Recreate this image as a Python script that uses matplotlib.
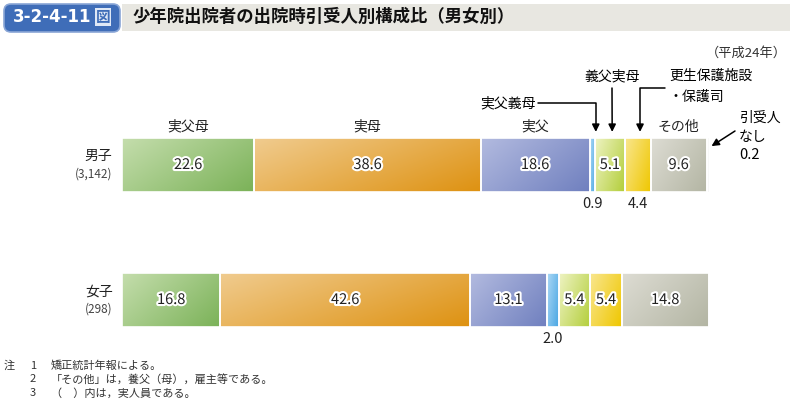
import numpy as np
import matplotlib
matplotlib.use('Agg')
import matplotlib.pyplot as plt
import matplotlib.patheffects as pe
from matplotlib.patches import FancyBboxPatch, Rectangle
from matplotlib.colors import to_rgb

plt.rcParams['font.family'] = ['Noto Sans CJK JP', 'DejaVu Sans']

# data
groups = ['男子', '女子']
group_counts = ['(3,142)', '(298)']
categories = ['実父母', '実母', '実父', '実父義母', '義父実母', '更生保護施設・保護司', 'その他', '引受人なし']
male = [22.6, 38.6, 18.6, 0.9, 5.1, 4.4, 9.6, 0.2]
female = [16.8, 42.6, 13.1, 2.0, 5.4, 5.4, 14.8, 0.0]
light = ['#c4ddac', '#f0cb8e', '#b2badf', '#acd8f5', '#eef3c2', '#f9e68e', '#dddcd3', '#eeeeee']
dark = ['#7bb258', '#de9212', '#7080bf', '#48a6e3', '#b3ce3a', '#efc700', '#b3b5a3', '#cccccc']

W, H = 792, 407
fig = plt.figure(figsize=(W / 100, H / 100), dpi=100)
ax = fig.add_axes([0, 0, 1, 1])
ax.axis('off')

# pixel mapping: bar from 122 to 708 px, rows centred at 165 / 300 px
ppx = 5.86
ypx = 135.0
xlim = (-122 / ppx, (W - 122) / ppx)
ylim = ((H - 165) / ypx, -165 / ypx)
height = 54 / ypx


def fpx(x, y):
    # figure pixels, origin top-left
    return (x, H - y)


def ffr(x, y):
    # figure fraction from top-left pixels
    return (x / W, 1 - y / H)


def gradient(c0, c1, n=40):
    a, b = np.array(to_rgb(c0)), np.array(to_rgb(c1))
    i, j = np.mgrid[0:n, 0:n]
    t = (i / (n - 1) * 0.6 + j / (n - 1)) / 1.6
    return a + (b - a) * t[..., None]


for row, vals in enumerate([male, female]):
    lefts = np.concatenate([[0], np.cumsum(vals)[:-1]])
    bars = ax.barh(row, vals, left=lefts, height=height, facecolor='none',
                   edgecolor='white', linewidth=1.2, zorder=3)
    for k, (b, v, l) in enumerate(zip(bars, vals, lefts)):
        if v <= 0:
            continue
        im = ax.imshow(gradient(light[k], dark[k]), extent=(l, l + v, row + height / 2, row - height / 2),
                       origin='upper', aspect='auto', interpolation='bilinear', zorder=2)
        im.set_clip_path(b)

ax.set_xlim(*xlim)
ax.set_ylim(*ylim)

stroke = [pe.withStroke(linewidth=3, foreground='white')]


def centers(vals):
    c = np.cumsum(vals)
    return c - np.array(vals) / 2


# values inside / below bars
for row, vals in enumerate([male, female]):
    cs = centers(vals)
    for k, (v, cx) in enumerate(zip(vals, cs)):
        if v <= 0 or k == 7:
            continue
        if v < 2.5 or (row == 0 and k == 5):
            ax.text(cx, row + height / 2 + 0.09, f'{v:.1f}', ha='center', va='center',
                    fontsize=10.5, color='#222222')
        else:
            ax.text(cx, row, f'{v:.1f}', ha='center', va='center', fontsize=10.5,
                    color='#222222', path_effects=stroke, zorder=5)

# segment names above the male bar
cm = centers(male)
for k in [0, 1, 2, 6]:
    ax.text(cm[k], -height / 2 - 0.085, categories[k], ha='center', va='center',
            fontsize=10, color='#222222')

# group labels
for row in range(2):
    ax.text(-1.6, row - 0.065, groups[row], ha='right', va='center', fontsize=10, color='#222222')
    ax.text(-1.6, row + 0.07, group_counts[row], ha='right', va='center', fontsize=8.5, color='#444444')

# arrows
tip_y = -height / 2 - 0.045
arrow_kw = dict(arrowstyle='-|>', color='black', lw=1.1, mutation_scale=11, shrinkA=0, shrinkB=0)
fig.text(*ffr(508, 103), '実父義母', ha='center', va='center', fontsize=10)
ax.annotate('', xy=(cm[3] + 0.6, tip_y), xytext=fpx(538, 103), textcoords='figure pixels',
            arrowprops=dict(connectionstyle='angle,angleA=0,angleB=90,rad=0', **arrow_kw))
fig.text(*ffr(612, 76), '義父実母', ha='center', va='center', fontsize=10)
ax.annotate('', xy=(cm[4] + 0.4, tip_y), xytext=fpx(612, 88), textcoords='figure pixels',
            arrowprops=arrow_kw)
fig.text(*ffr(669, 76), '更生保護施設', ha='left', va='center', fontsize=10)
fig.text(*ffr(669, 97), '・保護司', ha='left', va='center', fontsize=10)
ax.annotate('', xy=(cm[5] + 0.4, tip_y), xytext=fpx(665, 88), textcoords='figure pixels',
            arrowprops=dict(connectionstyle='angle,angleA=0,angleB=90,rad=0', **arrow_kw))
fig.text(*ffr(739, 118), '引受人', ha='left', va='center', fontsize=10)
fig.text(*ffr(739, 137), 'なし', ha='left', va='center', fontsize=10)
fig.text(*ffr(739, 155), f'{male[7]:.1f}', ha='left', va='center', fontsize=10.5)
ax.annotate('', xy=(100.6, -0.14), xytext=fpx(735, 131), textcoords='figure pixels',
            arrowprops=arrow_kw)

# header
fig.patches.append(Rectangle(fpx(122, 31), 668, 27, transform=None, facecolor='#e8e7e1',
                             edgecolor='none', zorder=0))
fig.patches.append(FancyBboxPatch(fpx(6, 30), 112, 24, boxstyle='round,pad=2,rounding_size=7',
                                  transform=None, facecolor='#3f6db8', edgecolor='#8aa6d6',
                                  linewidth=1.2, zorder=1))
fig.text(*ffr(13, 17), '3-2-4-11', ha='left', va='center', fontsize=12, fontweight='bold',
         color='white', family=['DejaVu Sans'])
fig.text(*ffr(103, 17), '図', ha='center', va='center', fontsize=10.5, fontweight='bold',
         color='#3f6db8', bbox=dict(boxstyle='square,pad=0.06', facecolor='#dfe8f6', edgecolor='none'))
fig.text(*ffr(133, 17), '少年院出院者の出院時引受人別構成比（男女別）', ha='left', va='center',
         fontsize=12.5, fontweight='bold', color='#111111')
fig.text(*ffr(787, 53), '（平成24年）', ha='right', va='center', fontsize=9.5, color='#333333')

# notes
notes = [('注', '1', '矯正統計年報による。'),
         ('', '2', '「その他」は，養父（母），雇主等である。'),
         ('', '3', '（　）内は，実人員である。')]
for i, (a, n, t) in enumerate(notes):
    y = 366 + i * 13.5
    fig.text(*ffr(4, y), a, ha='left', va='center', fontsize=8, color='#333333')
    fig.text(*ffr(30, y), n, ha='left', va='center', fontsize=8, color='#333333')
    fig.text(*ffr(51, y), t, ha='left', va='center', fontsize=8, color='#333333')

fig.savefig('out.png', dpi=100)
